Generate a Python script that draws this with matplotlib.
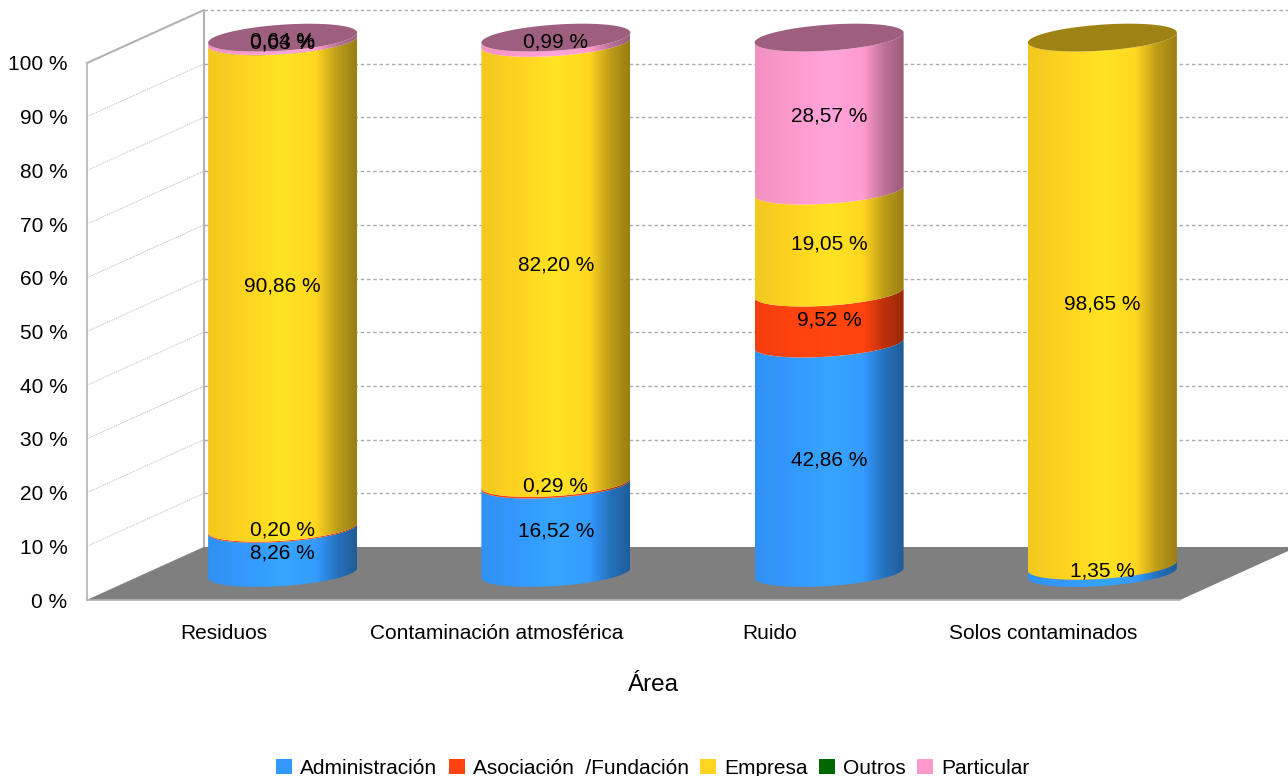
import numpy as np
import matplotlib
matplotlib.use('Agg')
import matplotlib.pyplot as plt
from matplotlib.colors import to_rgb
from matplotlib.patches import Polygon, Patch

plt.rcParams['font.family'] = ['Liberation Sans', 'DejaVu Sans']
plt.rcParams['font.size'] = 15

areas = ['Residuos', 'Contaminación atmosférica', 'Ruido', 'Solos contaminados']
series = ['Administración', 'Asociación  /Fundación', 'Empresa', 'Outros', 'Particular']
administracion = [8.26, 16.52, 42.86, 1.35]
asociacion = [0.20, 0.29, 9.52, 0]
empresa = [90.86, 82.20, 19.05, 98.65]
outros = [0.03, 0, 0, 0]
particular = [0.64, 0.99, 28.57, 0]
colors = ['#3399FF', '#FF420E', '#FFD320', '#006600', '#FF99CC']
y_ticks = list(range(0, 101, 10))

W, H = 1288, 776
# front plane of the 3D box, in pixels
LEFT, RIGHT, TOP, BOTTOM = 87, 1180, 63, 600
PX_X = (RIGHT - LEFT) / 4
PX_Y = (BOTTOM - TOP) / 100

# depth offsets (pixels -> data units)
BACK_DX = 117 / PX_X
BACK_DY = 53 / PX_Y
BAR_DX = 59 / PX_X
BAR_DY = 27 / PX_Y
BAR_RX = 74.5 / PX_X
BAR_RY = 13 / PX_Y
BAR_TILT = 5 / PX_Y
BAR_SCALE = 0.997
LABEL_DY = 2 / PX_Y


def shade(color):
    # horizontal lighting of the cylinder
    c = np.array(to_rgb(color))
    stops = [0, 0.25, 0.5, 0.72, 0.87, 1]
    gains = [0.95, 1.0, 1.08, 1.02, 0.74, 0.6]
    g = np.interp(np.linspace(0, 1, 256), stops, gains)
    return np.clip(c[None, None, :] * g[None, :, None], 0, 1)


def arc(cx, v, front=True):
    t = np.linspace(np.pi, 0, 60) if front else np.linspace(0, np.pi, 60)
    x = cx + BAR_RX * np.cos(t)
    y = BAR_SCALE * v + BAR_DY - BAR_RY * np.sin(t) + BAR_TILT * np.cos(t)
    return x, y


def draw_segment(ax, cx, v0, v1, color):
    x0, y0 = arc(cx, v0)
    x1, y1 = arc(cx, v1)
    pts = np.r_[np.c_[x0, y0], np.c_[x1, y1][::-1]]
    im = ax.imshow(shade(color), aspect='auto', interpolation='bilinear',
                   extent=(cx - BAR_RX, cx + BAR_RX, -10, 115), zorder=3)
    clip = Polygon(pts, closed=True, transform=ax.transData, fc='none', ec='none')
    ax.add_patch(clip)
    clip.set_clip_on(False)
    im.set_clip_box(fig.bbox)
    im.set_clip_path(clip)


def draw_cap(ax, cx, v, color):
    # top of the cylinder, dark tone of the last series
    c = np.array(to_rgb(color)) * 0.62
    xa, ya = arc(cx, v, front=True)
    t = np.linspace(0, np.pi, 60)
    xb = cx + BAR_RX * np.cos(t)
    yb = BAR_SCALE * v + BAR_DY + BAR_RY * np.sin(t) + BAR_TILT * np.cos(t)
    ax.add_patch(Polygon(np.r_[np.c_[xa, ya], np.c_[xb, yb]], closed=True,
                         fc=c, ec='none', zorder=4, clip_on=False))


fig = plt.figure(figsize=(W / 100, H / 100), dpi=100, facecolor='white')
ax = fig.add_axes([LEFT / W, 1 - BOTTOM / H, (RIGHT - LEFT) / W, (BOTTOM - TOP) / H])
ax.patch.set_visible(False)
ax.set_xlim(-0.5, 3.5)
ax.set_ylim(0, 100)

ax.set_xticks(range(len(areas)))
ax.set_xticklabels(areas)
ax.set_yticks(y_ticks)
ax.set_yticklabels([f'{v} %' for v in y_ticks])
ax.tick_params(length=0, pad=14, axis='y')
ax.tick_params(length=0, pad=17, axis='x')
ax.set_xlabel('Área', fontsize=17.5)
ax.xaxis.set_label_coords((653 - LEFT) / (RIGHT - LEFT), -(674 - BOTTOM) / (BOTTOM - TOP))
for side in ['top', 'right']:
    ax.spines[side].set_visible(False)
for side in ['left', 'bottom']:
    ax.spines[side].set_color('#B3B3B3')
    ax.spines[side].set_linewidth(1.2)

# floor
ax.add_patch(Polygon([(-0.5, 0), (3.5, 0), (3.5 + BACK_DX, BACK_DY), (-0.5 + BACK_DX, BACK_DY)],
                     closed=True, fc='#7F7F7F', ec='none', clip_on=False, zorder=1))
# walls and grid
for v in y_ticks:
    ax.plot([-0.5, -0.5 + BACK_DX], [v, v + BACK_DY], color='#C4C4C4', lw=0.7,
            ls=(0, (1.5, 1)), clip_on=False, zorder=0.5)
    if v > 0:
        ax.plot([-0.5 + BACK_DX, 3.5 + BACK_DX], [v + BACK_DY, v + BACK_DY], color='#ABABAB', lw=1,
                ls=(0, (2.5, 2)), clip_on=False, zorder=0.5)
ax.plot([-0.5, -0.5 + BACK_DX, -0.5 + BACK_DX], [100, 100 + BACK_DY, BACK_DY], color='#B3B3B3',
        lw=1.5, clip_on=False, zorder=0.6)

# stacked cylinders
table = [administracion, asociacion, empresa, outros, particular]
for i in range(len(areas)):
    cx = i + BAR_DX
    bottom = 0
    last = None
    for values, color in zip(table, colors):
        v = values[i]
        if v == 0:
            continue
        draw_segment(ax, cx, bottom, bottom + v, color)
        ax.text(cx, BAR_SCALE * (bottom + v / 2) + BAR_DY - LABEL_DY, f'{v:.2f}'.replace('.', ',') + ' %',
                ha='center', va='center', color='black', zorder=6, clip_on=False)
        bottom += v
        last = color
    draw_cap(ax, cx, bottom, last)

ax.set_xlim(-0.5, 3.5)
ax.set_ylim(0, 100)

handles = [Patch(fc=c, ec='none') for c in colors]
fig.legend(handles, series, loc='lower center', bbox_to_anchor=(653 / W, -0.002), ncols=5, frameon=False,
           borderpad=0, borderaxespad=0, handlelength=0.75, handleheight=0.75,
           handletextpad=0.4, columnspacing=0.55, fontsize=15)

fig.savefig('out.png', dpi=100)
